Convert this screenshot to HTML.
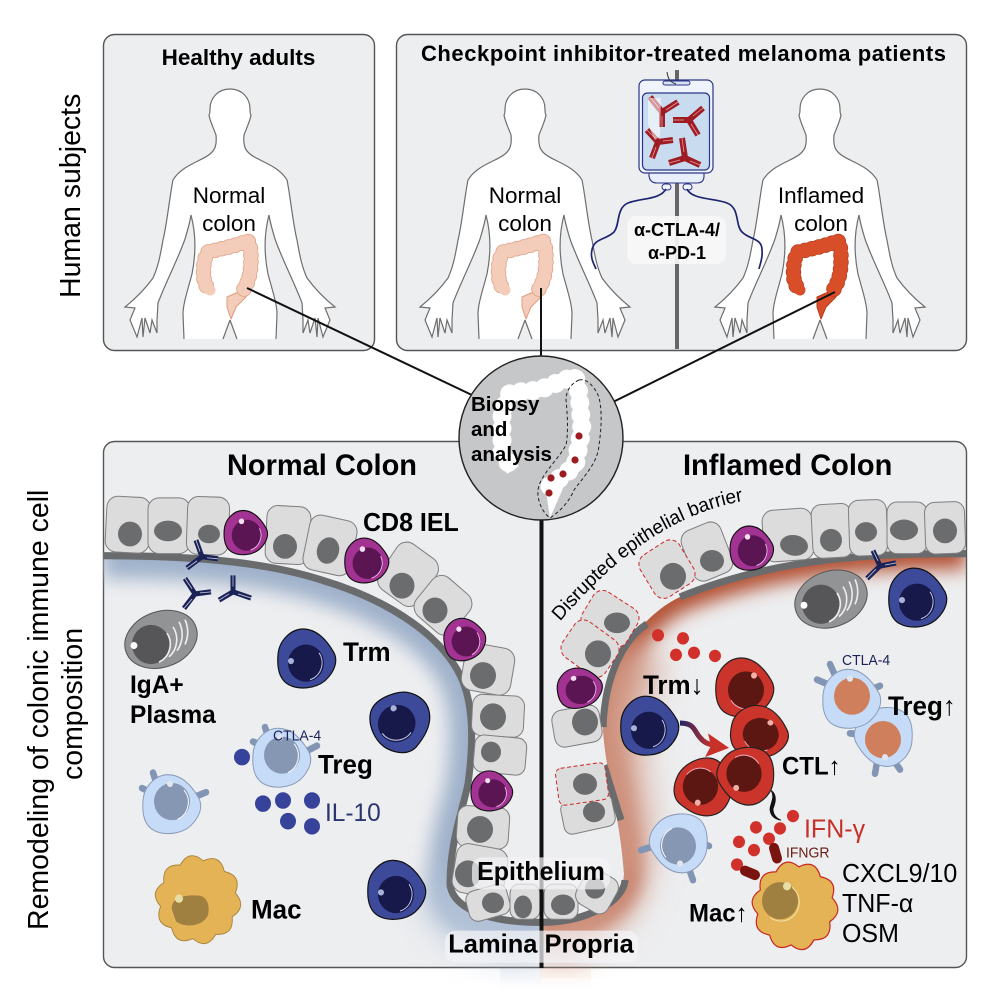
<!DOCTYPE html>
<html><head><meta charset="utf-8"><style>
html,body{margin:0;padding:0;background:#fff}
svg{display:block}
text{font-family:"Liberation Sans",Arial,sans-serif;fill:#000}
.b{font-weight:bold}
</style></head><body>
<svg xmlns="http://www.w3.org/2000/svg" width="996" height="996" viewBox="0 0 996 996">
<defs>
<filter id="bl1" filterUnits="userSpaceOnUse" x="0" y="400" width="996" height="596"><feGaussianBlur stdDeviation="9"/></filter>
<filter id="bl2" filterUnits="userSpaceOnUse" x="0" y="400" width="996" height="596"><feGaussianBlur stdDeviation="18"/></filter>
<clipPath id="clipL"><path d="M103,552 C180,552 260,556 323,576 C385,594 435,625 457,662 C474,690 474,730 468,773 C462,800 450,830 450,870 C452,890 480,907 542,907 L542,967 L103,967Z"/></clipPath>
<clipPath id="clipR"><path d="M966,550 C880,550 780,552 680,592 C640,610 605,660 603,710 C602,750 620,800 624,860 C624,885 590,907 540,907 L540,961 L966,961 L966,550Z"/></clipPath>
<linearGradient id="ag" x1="0" x2="1" y1="0" y2="0"><stop offset="0" stop-color="#1d2468"/><stop offset="1" stop-color="#c8302a"/></linearGradient>
<linearGradient id="sb" x1="0" x2="0" y1="0" y2="1"><stop offset="0" stop-color="#f1f3f7"/><stop offset="1" stop-color="#fff"/></linearGradient>
<linearGradient id="sr" x1="0" x2="0" y1="0" y2="1"><stop offset="0" stop-color="#fbf2ee"/><stop offset="1" stop-color="#fff"/></linearGradient>

<g id="bodyfill"><path d="M0,0 C-12,0 -20,9 -20,20 C-20,23 -20,25 -21,26 C-20,32 -17,38 -14,46 C-13,56 -15,61 -20,65 C-28,72 -48,76 -57,91 C-60,105 -63,135 -67,151 C-70,168 -72,178 -77,189 C-85,200 -95,210 -105,218 L-95,219 L-100,231 L-93,248 L-88,229 L-87,248 L-85,229 L-80,244 L-78,231 L-73,244 L-73,231 L-72,214 C-65,195 -52,170 -45,150 C-42,140 -40,133 -39,126 C-34,145 -34,165 -38,185 C-42,200 -47,215 -47,225 L-46,250 L-7,250 L0,231Z" fill="#fff"/></g>
<g id="bodyline"><path d="M0,0 C-12,0 -20,9 -20,20 C-20,23 -20,25 -21,26 C-20,32 -17,38 -14,46 C-13,56 -15,61 -20,65 C-28,72 -48,76 -57,91 C-60,105 -63,135 -67,151 C-70,168 -72,178 -77,189 C-85,200 -95,210 -105,218 L-95,219 L-100,231 L-93,248 L-88,229 L-87,248 L-85,229 L-80,244 L-78,231 L-73,244 L-73,231 L-72,214 C-65,195 -52,170 -45,150 C-42,140 -40,133 -39,126 C-34,145 -34,165 -38,185 C-42,200 -47,215 -47,225 L-46,250 M-7,250 L0,231" fill="none" stroke="#6e6e6e" stroke-width="1.2"/></g>
<g id="body"><use href="#bodyfill"/><use href="#bodyfill" transform="scale(-1,1)"/><use href="#bodyline"/><use href="#bodyline" transform="scale(-1,1)"/></g>

<path id="colp" d="M14,200 C20,190 21,180 21,170 C21,160 20,155 18,152 C8,156 -5,159 -22,163 C-27,170 -27,185 -26,190 C-25,196 -22,200 -20,201" fill="none" stroke-linecap="round" stroke-linejoin="round"/>
<path id="colr" d="M-3,208 L6,204 L18,201 L16,208 L6,218 L1,230 L-3,218Z" stroke-linejoin="round"/>

<path id="blob" d="M-4,-29 C10,-29 20,-18 27,-6 C31,2 28,12 18,21 C8,29 -8,30 -18,25 C-28,20 -30,8 -29,-4 C-28,-18 -16,-29 -4,-29Z"/>
<g id="trm"><use href="#blob" fill="#3d4a9a" stroke="#111" stroke-width="1.2"/><circle cx="-1" cy="4" r="18" fill="#16194a"/><path d="M12,-6 A17,17 0 0 1 3,20" fill="none" stroke="#c8cdea" stroke-width="1"/><circle cx="-16" cy="2" r="3" fill="#a9b2d8"/></g>
<g id="ctl"><use href="#blob" fill="#cb342a" stroke="#222" stroke-width="1.2"/><circle cx="1" cy="2" r="18" fill="#5c1712"/><path d="M-14,12 A18,18 0 0 0 10,18" fill="none" stroke="#eab" stroke-width="1"/><circle cx="9" cy="-12" r="3" fill="#eeb0a8"/></g>
<g id="iel"><use href="#blob" fill="#a23392" stroke="#111" stroke-width="1.5"/><circle cx="1" cy="3" r="20" fill="#5a1552"/><path d="M18,-6 A20,20 0 0 1 6,22" fill="none" stroke="#eeb6e8" stroke-width="1.3"/><circle cx="-6" cy="-15" r="3.6" fill="#f3dff0"/></g>
<g id="treg"><use href="#blob" fill="#c6dbf7" stroke="#8a9cb8" stroke-width="1"/><circle cx="0" cy="-3" r="18" fill="#8597b3"/><path d="M12,-14 A18,18 0 0 1 6,14" fill="none" stroke="#fff" stroke-width="1"/><circle cx="-2" cy="-20" r="3" fill="#dfe6ee"/></g>
<g id="treg2"><use href="#blob" fill="#c6dbf7" stroke="#8a9cb8" stroke-width="1"/><circle cx="0" cy="-3" r="18" fill="#d07f5c"/><circle cx="-2" cy="-20" r="3" fill="#dfe6ee"/></g>
<path id="mac" d="M0,-38 Q15.5,-47.6 22.3,-30.7 Q40.5,-29.3 36.1,-11.7 Q50,0 36.1,11.7 Q40.5,29.3 22.3,30.7 Q15.5,47.6 0,38 Q-15.5,47.6 -22.3,30.7 Q-40.5,29.3 -36.1,11.7 Q-50,0 -36.1,-11.7 Q-40.5,-29.3 -22.3,-30.7 Q-15.5,-47.6 0,-38Z" stroke-linejoin="round"/>
<g id="plasma"><ellipse rx="37" ry="27" transform="rotate(-18)" fill="#929395" stroke="#555" stroke-width="1"/><circle cx="-10" cy="5" r="19" fill="#565658"/><path d="M6,-6 A19,19 0 0 1 -2,22 M12,-12 A22,22 0 0 1 8,17 M18,-17 A26,26 0 0 1 16,11 M24,-19 A28,28 0 0 1 24,5" fill="none" stroke="#eee" stroke-width="1.6"/><circle cx="-27" cy="6" r="3.4" fill="#fff"/></g>
</defs>

<rect width="996" height="996" fill="#fff"/>
<rect x="500" y="966" width="41" height="24" fill="url(#sb)"/>
<rect x="541" y="966" width="50" height="24" fill="url(#sr)"/>
<!-- panels -->
<rect x="103.5" y="34.5" width="271" height="316" rx="11" fill="#edeef0" stroke="#555" stroke-width="1.4"/>
<rect x="396.5" y="34.5" width="570" height="316" rx="11" fill="#edeef0" stroke="#555" stroke-width="1.4"/>
<rect x="103.5" y="441.5" width="863" height="526" rx="11" fill="#edeef0" stroke="#555" stroke-width="1.4"/>

<text x="238.5" y="65" font-size="22.5" class="b" text-anchor="middle">Healthy adults</text>
<text x="421" y="61" font-size="22" class="b" textLength="525">Checkpoint inhibitor-treated melanoma patients</text>

<text transform="translate(80,298) rotate(-90)" font-size="28.5">Human subjects</text>
<text transform="translate(48,930) rotate(-90)" font-size="28.5">Remodeling of colonic immune cell</text>
<text transform="translate(82,704) rotate(-90)" font-size="28.5" text-anchor="middle">composition</text>

<!-- bodies -->
<use href="#body" x="230" y="89"/>
<use href="#body" x="525" y="89"/>
<use href="#body" x="820" y="89"/>

<!-- colons -->
<g transform="translate(230,89)"><use href="#colr" fill="#f3cdb9" stroke="#e09c80" stroke-width="1"/><use href="#colp" stroke="#e09c80" stroke-width="15.5" stroke-dasharray="0 7"/><use href="#colp" stroke="#f3cdb9" stroke-width="11"/><use href="#colp" stroke="#f3cdb9" stroke-width="14" stroke-dasharray="0 7"/></g>
<g transform="translate(525,89)"><use href="#colr" fill="#f3cdb9" stroke="#e09c80" stroke-width="1"/><use href="#colp" stroke="#e09c80" stroke-width="15.5" stroke-dasharray="0 7"/><use href="#colp" stroke="#f3cdb9" stroke-width="11"/><use href="#colp" stroke="#f3cdb9" stroke-width="14" stroke-dasharray="0 7"/></g>
<g transform="translate(820,89)"><use href="#colr" fill="#d84e28" stroke="#b53a1a" stroke-width="1"/><use href="#colp" stroke="#b53a1a" stroke-width="15.5" stroke-dasharray="0 7"/><use href="#colp" stroke="#d84e28" stroke-width="11"/><use href="#colp" stroke="#d84e28" stroke-width="14" stroke-dasharray="0 7"/></g>

<text x="229" y="203" font-size="22.5" text-anchor="middle">Normal</text><text x="229" y="231" font-size="22.5" text-anchor="middle">colon</text>
<text x="525" y="203" font-size="22.5" text-anchor="middle">Normal</text><text x="525" y="231" font-size="22.5" text-anchor="middle">colon</text>
<text x="821" y="203" font-size="22.5" text-anchor="middle">Inflamed</text><text x="821" y="231" font-size="22.5" text-anchor="middle">colon</text>

<!-- IV pole, bag -->
<rect x="675" y="70" width="4" height="279" fill="#666"/>
<path d="M649,172 L649,176 Q650,183 657,183 L697,183 Q704,183 704,176 L704,172Z" fill="#e8eefa" stroke="#2c3488" stroke-width="1.1"/>
<rect x="639" y="80" width="74" height="93" rx="6" fill="#eef3fc" stroke="#2c3488" stroke-width="1.2"/>
<rect x="642.5" y="93" width="67" height="77" rx="5" fill="#c9dbee" stroke="#2c3488" stroke-width="1.2"/>
<rect x="663" y="81" width="27" height="4" rx="2" fill="#d8e2f5" stroke="#2c3488" stroke-width="1"/>
<path d="M667,72 C668,79 670,82 676,84" fill="none" stroke="#333" stroke-width="1"/>
<rect x="662" y="184" width="9" height="6" rx="3" fill="#eef3fc" stroke="#2c3488"/>
<rect x="683" y="184" width="9" height="6" rx="3" fill="#eef3fc" stroke="#2c3488"/>
<g fill="none" stroke="#a01c24" stroke-width="6">
<path d="M662,112 L650,97 M662,112 L678,102 M662,112 L662,127"/>
<path d="M689,120 L673,120 M689,120 L703,108 M689,120 L698,135"/>
<path d="M658,142 L647,130 M658,142 L673,140 M658,142 L652,158"/>
<path d="M685,158 L682,138 M685,158 L669,163 M685,158 L700,165"/>
</g>
<g fill="none" stroke="#e3a0a4" stroke-width=".8">
<path d="M659,108 L650,97 M666,110 L678,102 M662,116 L662,127"/>
<path d="M684,120 L673,120 M693,116 L703,108 M691,124 L698,135"/>
<path d="M655,138 L647,130 M663,141 L673,140 M656,147 L652,158"/>
<path d="M684,152 L682,138 M680,160 L669,163 M690,161 L700,165"/>
</g>
<path d="M648,98 L661,98 L660,136 L655,140 L648,125Z" fill="#fff" opacity=".55"/>
<path d="M666,189 C660,200 640,198 628,203 C616,208 620,225 614,232 C606,240 594,238 592,250 C590,258 594,264 596,269" fill="none" stroke="#1d2470" stroke-width="1.7"/>
<path d="M687,189 C692,200 715,198 727,203 C740,208 735,225 742,232 C750,240 762,238 762,250 C763,258 760,264 759,269" fill="none" stroke="#1d2470" stroke-width="1.7"/>
<rect x="627" y="216" width="99" height="48" rx="9" fill="#f7f7f8" opacity=".92"/>
<text x="677" y="236" font-size="18" class="b" text-anchor="middle">α-CTLA-4/</text>
<text x="677" y="259" font-size="18" class="b" text-anchor="middle">α-PD-1</text>

<!-- connectors -->
<line x1="247" y1="288" x2="474" y2="396" stroke="#111" stroke-width="2"/>
<line x1="541" y1="288" x2="541" y2="356" stroke="#111" stroke-width="2"/>
<line x1="835" y1="292" x2="613" y2="402" stroke="#111" stroke-width="2"/>

<g transform="translate(0,440) scale(1,1.033) translate(0,-440)">
<!-- lamina shading -->
<g clip-path="url(#clipL)">
<path d="M103,552 C180,552 260,556 323,576 C385,594 435,625 457,662 C474,690 474,730 468,773 C462,800 450,830 450,870 C452,890 480,907 542,907" fill="none" stroke="#9fb1ca" stroke-width="44" filter="url(#bl1)"/>
<path d="M450,870 C452,890 480,907 542,907" fill="none" stroke="#b4c3d8" stroke-width="60" filter="url(#bl2)"/>
</g>
<g clip-path="url(#clipR)">
<path d="M966,550 C880,550 780,552 680,592 C640,610 605,660 603,710 C602,750 620,800 624,860 C624,885 590,907 540,907" fill="none" stroke="#b24f30" stroke-width="30" filter="url(#bl1)"/>
<path d="M640,640 C615,680 605,730 620,800 C630,860 610,900 540,920" fill="none" stroke="#d29a86" stroke-width="50" filter="url(#bl2)"/>
</g>

<!-- epithelial bands -->
<g fill="none" stroke="#6a6b6d" stroke-width="7">
<path d="M103,552 C180,552 260,556 323,576 C385,594 435,625 457,662 C474,690 474,730 468,773 C462,800 450,830 450,870 C452,890 480,907 542,907"/>
<path d="M966,550 C880,550 780,552 680,592"/>
<path d="M647,618 C625,632 605,665 603,718" />
<path d="M604,755 L621,808"/>
<path d="M625,866 C624,885 590,907 540,907"/>
</g>

<!-- epithelial cells -->
<g fill="#dcdcdc" stroke="#7f7f81" stroke-width="1">
<rect x="-22" y="-27" width="44" height="54" rx="11" transform="translate(128,522) rotate(3)"/>
<rect x="-21" y="-27" width="42" height="54" rx="11" transform="translate(169,523)"/>
<rect x="-21" y="-28" width="42" height="56" rx="11" transform="translate(208,523) rotate(2)"/>
<rect x="-22" y="-28" width="44" height="56" rx="11" transform="translate(288,532) rotate(3)"/>
<rect x="-24" y="-27" width="48" height="54" rx="11" transform="translate(330,542) rotate(12)"/>
<rect x="-24" y="-27" width="48" height="54" rx="12" transform="translate(408,570) rotate(35)"/>
<rect x="-24" y="-24" width="48" height="48" rx="12" transform="translate(443,600) rotate(40)"/>
<rect x="-25" y="-23" width="50" height="46" rx="12" transform="translate(488,662) rotate(10)"/>
<rect x="-26" y="-20" width="52" height="40" rx="10" transform="translate(498,707) rotate(3)"/>
<rect x="-26" y="-18" width="52" height="36" rx="9" transform="translate(500,745) rotate(5)"/>
<rect x="-26" y="-20" width="52" height="40" rx="10" transform="translate(483,815) rotate(4)"/>
<rect x="-26" y="-24" width="52" height="48" rx="12" transform="translate(480,857) rotate(10)"/>
<rect x="-21" y="-15" width="42" height="30" rx="9" transform="translate(488,888) rotate(-15)"/>
<rect x="-15" y="-17" width="30" height="34" rx="9" transform="translate(525,887)"/>
<rect x="-16" y="-17" width="34" height="34" rx="9" transform="translate(560,887)"/>
<rect x="-18" y="-19" width="36" height="38" rx="10" transform="translate(597,877) rotate(30)"/>
<rect x="-25" y="-25" width="50" height="50" rx="11" transform="translate(788,532) rotate(-4)"/>
<rect x="-20" y="-26" width="40" height="52" rx="10" transform="translate(832,528) rotate(-3)"/>
<rect x="-19" y="-27" width="38" height="54" rx="10" transform="translate(868,525) rotate(-2)"/>
<rect x="-20" y="-25" width="40" height="50" rx="10" transform="translate(907,525)"/>
<rect x="-20" y="-25" width="40" height="50" rx="10" transform="translate(945,525) rotate(-2)"/>
<rect x="-21" y="-26" width="42" height="52" rx="11" transform="translate(707,548) rotate(-22)"/>
<rect x="-24" y="-18" width="48" height="36" rx="10" transform="translate(577,717) rotate(-10)"/>
<rect x="-26" y="-16" width="52" height="32" rx="8" transform="translate(588,802) rotate(-12)"/>
</g>
<g fill="#dcdcdc" stroke="#cf2a2a" stroke-width="1" stroke-dasharray="4 2.5">
<rect x="-23" y="-24" width="46" height="48" rx="11" transform="translate(667,565) rotate(-32)"/>
<rect x="-26" y="-21" width="52" height="42" rx="11" transform="translate(610,613) rotate(32)"/>
<rect x="-26" y="-21" width="52" height="42" rx="11" transform="translate(590,642) rotate(35)"/>
<rect x="-25" y="-18" width="50" height="36" rx="6" transform="translate(582,773) rotate(-8)"/>
</g>
<g fill="#6b6c6e">
<circle cx="130" cy="531" r="12"/><ellipse cx="168" cy="528" rx="14" ry="10"/><ellipse cx="209" cy="531" rx="11" ry="9"/>
<circle cx="285" cy="543" r="12"/><ellipse cx="328" cy="547" rx="11" ry="13" transform="rotate(20 328 547)"/>
<circle cx="402" cy="581" r="12.5"/><circle cx="435" cy="605" r="12.5"/><circle cx="483" cy="668" r="13"/><circle cx="493" cy="708" r="13"/><circle cx="491" cy="742" r="10"/>
<circle cx="480" cy="817" r="13"/><circle cx="468" cy="860" r="13"/><ellipse cx="493" cy="888" rx="11" ry="10"/><ellipse cx="523" cy="892" rx="9" ry="11"/>
<ellipse cx="794" cy="542" rx="14" ry="10" transform="rotate(8 794 542)"/><circle cx="831" cy="537" r="11"/><ellipse cx="866" cy="529" rx="11" ry="9.5"/><ellipse cx="904" cy="527" rx="14" ry="10"/><circle cx="945" cy="528" r="12"/>
<ellipse cx="712" cy="557" rx="12" ry="10.5"/><circle cx="673" cy="572" r="13"/><ellipse cx="617" cy="617" rx="13" ry="10"/><circle cx="598" cy="647" r="13"/>
<circle cx="585" cy="713" r="13"/><ellipse cx="585" cy="773" rx="12" ry="10.5"/><ellipse cx="594" cy="800" rx="11" ry="10"/><ellipse cx="563" cy="890" rx="12" ry="10"/><circle cx="595" cy="874" r="10"/>
</g>

<!-- IEL -->
<use href="#iel" transform="translate(246,530) scale(.75)"/>
<use href="#iel" transform="translate(367,557) scale(.76)"/>
<use href="#iel" transform="translate(465,633) rotate(-10) scale(.72)"/>
<use href="#iel" transform="translate(492,780) scale(.72,.68)"/>
<use href="#iel" transform="translate(752,545) scale(.75)"/>
<use href="#iel" transform="translate(580,680) rotate(-10) scale(.78,.68)"/>
</g>

<!-- divider and circle -->
<line x1="541.5" y1="518" x2="541.5" y2="968" stroke="#111" stroke-width="4"/>
<circle cx="541" cy="438" r="82" fill="#c6c7c9" stroke="#222" stroke-width="1.4"/>
<path d="M544,478 L564,486 L550,518 Z" fill="#fff"/>
<path d="M550,486 L575,466 L582,430 L579,393 L575,376 L539,390 L510,393 L502,413 L502,453 L513,470" fill="none" stroke="#fff" stroke-width="14" stroke-linejoin="round"/>
<path d="M550,486 L575,466 L582,430 L579,393 L575,376 L539,390 L510,393 L502,413 L502,453 L513,470" fill="none" stroke="#fff" stroke-width="19" stroke-linecap="round" stroke-dasharray="0 12" stroke-linejoin="round"/>
<path d="M579,380 C570,384 566,392 566,400 C568,420 568,435 566,445 C558,460 540,475 538,490 C537,500 542,512 550,518 C562,510 570,500 574,490 C585,475 598,462 599,445 C602,425 602,405 598,395 C594,386 586,378 579,380Z" fill="none" stroke="#222" stroke-width="1" stroke-dasharray="3.5 2.5"/>
<g fill="#9c1c22"><circle cx="579" cy="436" r="3.6"/><circle cx="575" cy="460" r="3.6"/><circle cx="563" cy="474" r="3.6"/><circle cx="551" cy="478" r="3.6"/><circle cx="549" cy="493" r="3.6"/></g>
<text x="471" y="411" font-size="20.5" class="b">Biopsy</text>
<text x="471" y="436" font-size="20.5" class="b">and</text>
<text x="471" y="461" font-size="20.5" class="b">analysis</text>

<g transform="translate(0,440) scale(1,1.033) translate(0,-440)">
<!-- antibodies -->
<g fill="none" stroke="#1b2258" stroke-width="5">
<path d="M202,553 L196,537 M202,553 L218,555 M202,553 L187,564"/>
<path d="M195,589 L185,574 M195,589 L211,587 M195,589 L184,603"/>
<path d="M233,587 L233,571 M233,587 L251,593 M233,587 L219,595"/>
<path d="M880,562 L873,547 M880,562 L896,559 M880,562 L867,574"/>
</g>
<g fill="none" stroke="#c8ccd8" stroke-width=".8">
<path d="M200,548 L196,537 M207,554 L218,555 M197,557 L187,564"/>
<path d="M192,584 L185,574 M200,588 L211,587 M192,594 L184,603"/>
<path d="M233,582 L233,571 M238,589 L251,593 M229,589 L219,595"/>
<path d="M878,557 L873,547 M885,561 L896,559 M876,565 L867,574"/>
</g>
<use href="#plasma" x="161" y="633"/>
<use href="#trm" x="307" y="652"/>
<use href="#trm" transform="translate(401,714) rotate(70) scale(1,1.05)"/>
<use href="#trm" x="397" y="876"/>
<g stroke="#8295b5" stroke-width="6.5" stroke-linecap="round">
<path d="M265,718 L269,730 M253,732 L265,737 M317,736 L307,741"/>
<path d="M153,762 L157,774 M142,777 L153,782 M206,781 L196,785"/>
<path d="M830,657 L836,670 M817,672 L829,677 M880,678 L870,682"/>
<path d="M850,724 L862,725 M900,759 L893,749 M875,763 L877,752"/>
<path d="M641,837 L651,834 M709,833 L699,829 M693,866 L689,855"/>
</g>
<use href="#treg" x="282" y="748"/>
<use href="#treg" x="172" y="793"/>
<g fill="#37429a"><circle cx="242" cy="747" r="8"/><circle cx="263" cy="792" r="8"/><circle cx="283" cy="789" r="8"/><circle cx="312" cy="789" r="8"/><circle cx="288" cy="809" r="8"/><circle cx="312" cy="814" r="8"/></g>
<g transform="translate(198,885) rotate(8)"><use href="#mac" fill="#e3b356" stroke="#a98238" stroke-width=".9"/></g>
<path d="M172,895 C170,885 182,880 196,881 C208,880 210,892 208,900 C202,912 184,912 176,906Z" fill="#a08040"/>
<circle cx="179" cy="884" r="4" fill="#e6e0a8"/>

<!-- right immune -->
<use href="#plasma" x="831" y="594"/>
<use href="#trm" x="918" y="593"/>
<use href="#trm" x="650" y="717"/>
<use href="#ctl" x="745" y="680"/>
<use href="#ctl" transform="translate(760,723) rotate(8) scale(1,.88)"/>
<use href="#ctl" transform="translate(702,777) rotate(160) scale(.98)"/>
<use href="#ctl" transform="translate(745,765) rotate(180) scale(.98)"/>
<use href="#treg2" transform="translate(883,727) rotate(180)"/>
<use href="#treg2" transform="translate(852,691)"/>
<use href="#treg" transform="translate(678,830) rotate(180)"/>
<g fill="#d0312a"><circle cx="658" cy="629" r="6"/><circle cx="683" cy="632" r="6"/><circle cx="676" cy="648" r="6"/><circle cx="694" cy="646" r="6"/><circle cx="715" cy="649" r="6"/>
<circle cx="793" cy="804" r="6"/><circle cx="756" cy="815" r="6"/><circle cx="780" cy="816" r="6"/><circle cx="769" cy="826" r="6"/><circle cx="739" cy="829" r="6"/><circle cx="754" cy="837" r="6"/><circle cx="737" cy="851" r="6"/></g>
<path d="M680,714 C695,714 694,722 700,728 C704,733 708,734 712,735" fill="none" stroke="url(#ag)" stroke-width="5"/>
<path d="M708,724 L729,738 L705,747 L711,736Z" fill="#c8302a"/>
<path d="M771,779 C778,784 775,792 773,797 C773,802 776,806 781,808 C774,807 770,803 770,797 C771,790 775,786 771,779Z" fill="#111" stroke="#111" stroke-width=".8"/>
<g stroke="#7a1410" stroke-width="10" stroke-linecap="round"><path d="M774,835 L777,845"/><path d="M745,857 L755,861"/></g>
<g transform="translate(795,891) rotate(6)"><use href="#mac" fill="#e3b356" stroke="#c8281f" stroke-width="1.2"/></g>
<circle cx="780" cy="886" r="18" fill="#a08040"/><path d="M792,873 A18,18 0 0 1 770,902" fill="none" stroke="#f3e4a8" stroke-width="1"/><circle cx="787" cy="872" r="4" fill="#e6e0a8"/>

<!-- labels -->
<text x="227" y="474" font-size="29" class="b">Normal Colon</text>
<text x="683" y="474" font-size="29" class="b">Inflamed Colon</text>
<text x="363" y="528" font-size="25" class="b">CD8 IEL</text>
<text x="130" y="685" font-size="24.5" class="b">IgA+</text>
<text x="130" y="714" font-size="24.5" class="b">Plasma</text>
<text x="343" y="654" font-size="26" class="b">Trm</text>
<text x="318" y="763" font-size="26" class="b">Treg</text>
<text x="273" y="731" font-size="14" style="fill:#1b2258">CTLA-4</text>
<text x="325" y="809" font-size="24.5" style="fill:#2c3470">IL-10</text>
<text x="251" y="903" font-size="26" class="b">Mac</text>
<text x="643" y="686" font-size="26" class="b">Trm↓</text>
<text x="782" y="764" font-size="24" class="b">CTL↑</text>
<text x="888" y="706" font-size="26" class="b">Treg↑</text>
<text x="842" y="658" font-size="14" style="fill:#1b2258">CTLA-4</text>
<text x="804" y="825" font-size="25" style="fill:#c8302a">IFN-γ</text>
<text x="786" y="844" font-size="14" style="fill:#6a1a14">IFNGR</text>
<text x="842" y="868" font-size="25">CXCL9/10</text>
<text x="842" y="897" font-size="25">TNF-α</text>
<text x="842" y="926" font-size="25">OSM</text>
<text x="689" y="906" font-size="24" class="b">Mac↑</text>
<path id="dis" d="M560,616 Q650,512 750,498" fill="none"/>
<text font-size="19"><textPath href="#dis">Disrupted epithelial barrier</textPath></text>

<rect x="472" y="844" width="138" height="31" rx="10" fill="#f4f4f6" opacity=".72"/>
<text x="541" y="866" font-size="25" class="b" text-anchor="middle">Epithelium</text>
<rect x="445" y="915" width="193" height="31" rx="10" fill="#f4f4f6" opacity=".72"/>
<text x="541" y="936" font-size="25.5" class="b" text-anchor="middle">Lamina Propria</text>
</g>
</svg>
</body></html>
